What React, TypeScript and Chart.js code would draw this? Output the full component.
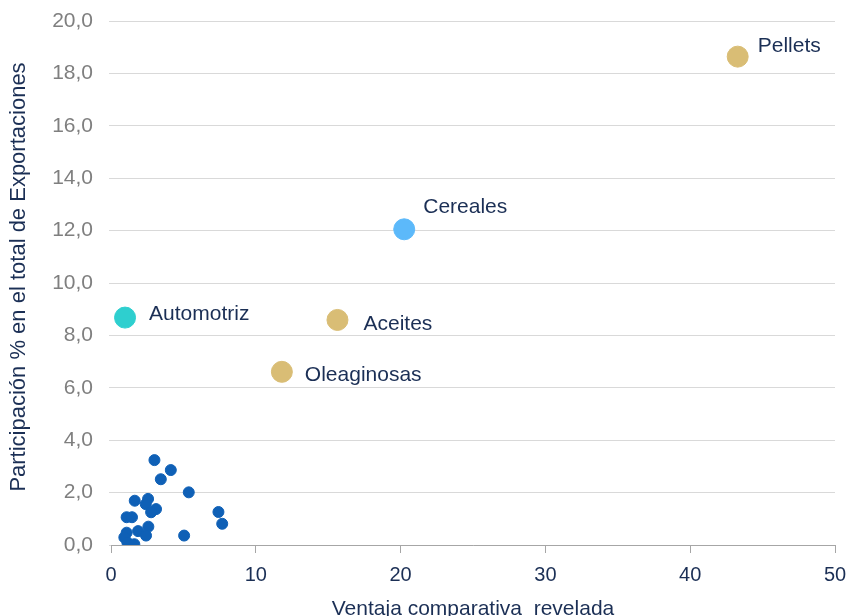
import React, { useEffect, useRef } from "react";
import { Chart, registerables } from "chart.js";

Chart.register(...registerables);

// Small products (dark blue): [Ventaja comparativa revelada, Participación %]
const otherX = [3.0, 4.13, 3.44, 5.37, 1.64, 2.56, 2.4, 3.11, 2.77, 1.08, 1.45, 7.42, 7.68, 2.58, 1.87, 2.42, 5.05, 1.08, 0.92, 1.13, 1.61];
const otherY = [3.24, 2.86, 2.51, 2.01, 1.69, 1.76, 1.56, 1.37, 1.25, 1.06, 1.06, 1.26, 0.81, 0.7, 0.53, 0.36, 0.36, 0.47, 0.29, 0.1, 0.03];

const autoNames = ["Automotriz"];
const autoX = [0.97];
const autoY = [8.68];

const cerealNames = ["Cereales"];
const cerealX = [20.25];
const cerealY = [12.05];

const goldNames = ["Pellets", "Aceites", "Oleaginosas"];
const goldX = [43.28, 15.64, 11.8];
const goldY = [18.64, 8.59, 6.61];

const xTicks = [0, 10, 20, 30, 40, 50];
const yTicks = [0, 2, 4, 6, 8, 10, 12, 14, 16, 18, 20];

const xTitle = "Ventaja comparativa  revelada";
const yTitle = "Participación % en el total de Exportaciones";

// label offsets relative to point center (style)
const labelOffsets: Record<string, [number, number]> = {
  Pellets: [20, -5],
  Cereales: [19, -16.5],
  Automotriz: [24, 2.5],
  Aceites: [26, 10],
  Oleaginosas: [23, 9.5],
};

const NAVY = "#1B2F55";
const FONT = "'Liberation Sans', Arial, sans-serif";

const pts = (xs: number[], ys: number[]) => xs.map((x, i) => ({ x, y: ys[i] }));

const labelPlugin = {
  id: "pointLabels",
  afterDatasetsDraw(chart: any) {
    const ctx = chart.ctx;
    ctx.save();
    ctx.font = `21px ${FONT}`;
    ctx.fillStyle = NAVY;
    ctx.textAlign = "left";
    ctx.textBaseline = "alphabetic";
    chart.data.datasets.forEach((ds: any, di: number) => {
      if (!ds.names) return;
      const meta = chart.getDatasetMeta(di);
      meta.data.forEach((el: any, i: number) => {
        const name = ds.names[i];
        const off = labelOffsets[name] || [15, 0];
        ctx.fillText(name, el.x + off[0], el.y + off[1]);
      });
    });
    // y axis title
    const a = chart.chartArea;
    ctx.save();
    ctx.translate(19, (a.top + a.bottom) / 2 - 6);
    ctx.rotate(-Math.PI / 2);
    ctx.font = `22px ${FONT}`;
    ctx.textAlign = "center";
    ctx.textBaseline = "middle";
    ctx.fillText(yTitle, 0, 0);
    ctx.restore();
    ctx.restore();
  },
};

export default function App() {
  const ref = useRef<HTMLCanvasElement | null>(null);
  useEffect(() => {
    if (!ref.current) return;
    const chart = new Chart(ref.current, {
      type: "scatter",
      data: {
        datasets: [
          {
            label: "Otros",
            data: pts(otherX, otherY),
            backgroundColor: "#0F60B6",
            borderColor: "#0F60B6",
            pointRadius: 5.5,
            pointHoverRadius: 5.5,
          },
          {
            label: "Automotriz",
            names: autoNames,
            data: pts(autoX, autoY),
            backgroundColor: "#2ECFCF",
            borderColor: "#2ECFCF",
            pointRadius: 10.5,
          } as any,
          {
            label: "Cereales",
            names: cerealNames,
            data: pts(cerealX, cerealY),
            backgroundColor: "#5CB9FA",
            borderColor: "#5CB9FA",
            pointRadius: 10.5,
          } as any,
          {
            label: "Complejo oleaginoso",
            names: goldNames,
            data: pts(goldX, goldY),
            backgroundColor: "#D9BD75",
            borderColor: "#D9BD75",
            pointRadius: 10.5,
          } as any,
        ],
      },
      options: {
        responsive: false,
        animation: false,
        devicePixelRatio: 1,
        layout: { padding: { top: 21, right: 17, left: 0, bottom: 0 } },
        plugins: {
          legend: { display: false },
          tooltip: { enabled: false },
        },
        scales: {
          x: {
            type: "linear",
            min: 0,
            max: 50,
            afterBuildTicks: (s: any) => {
              s.ticks = xTicks.map((v) => ({ value: v }));
            },
            afterFit: (s: any) => {
              s.height = 85;
              s.paddingLeft = 0;
              s.paddingRight = 0;
            },
            grid: {
              display: true,
              drawOnChartArea: false,
              drawTicks: true,
              tickLength: 8,
              color: "#A6A6A6",
            },
            border: { display: true, color: "#A6A6A6", width: 1 },
            ticks: {
              color: NAVY,
              font: { family: FONT, size: 20 },
              padding: 10,
              maxRotation: 0,
            },
            title: {
              display: true,
              text: xTitle,
              color: NAVY,
              font: { family: FONT, size: 21 },
              padding: { top: 0, bottom: 8 },
            },
          },
          y: {
            type: "linear",
            min: 0,
            max: 20,
            afterBuildTicks: (s: any) => {
              s.ticks = yTicks.map((v) => ({ value: v }));
            },
            afterFit: (s: any) => {
              s.width = 111;
              s.paddingTop = 0;
              s.paddingBottom = 0;
            },
            grid: {
              display: true,
              drawTicks: true,
              tickLength: 2,
              color: "#D9D9D9",
              lineWidth: 1,
            },
            border: { display: false },
            ticks: {
              color: "#7F7F7F",
              font: { family: FONT, size: 21 },
              padding: 16,
              callback: (v: any) => Number(v).toFixed(1).replace(".", ","),
            },
            title: { display: false, text: yTitle },
          },
        },
      } as any,
      plugins: [labelPlugin],
    });
    return () => chart.destroy();
  }, []);
  return (
    <div style={{ position: "absolute", left: 0, top: 0, width: 852, height: 616, overflow: "hidden", background: "#fff" }}>
      <canvas ref={ref} width={852} height={630} style={{ display: "block", width: 852, height: 630 }} />
    </div>
  );
}
